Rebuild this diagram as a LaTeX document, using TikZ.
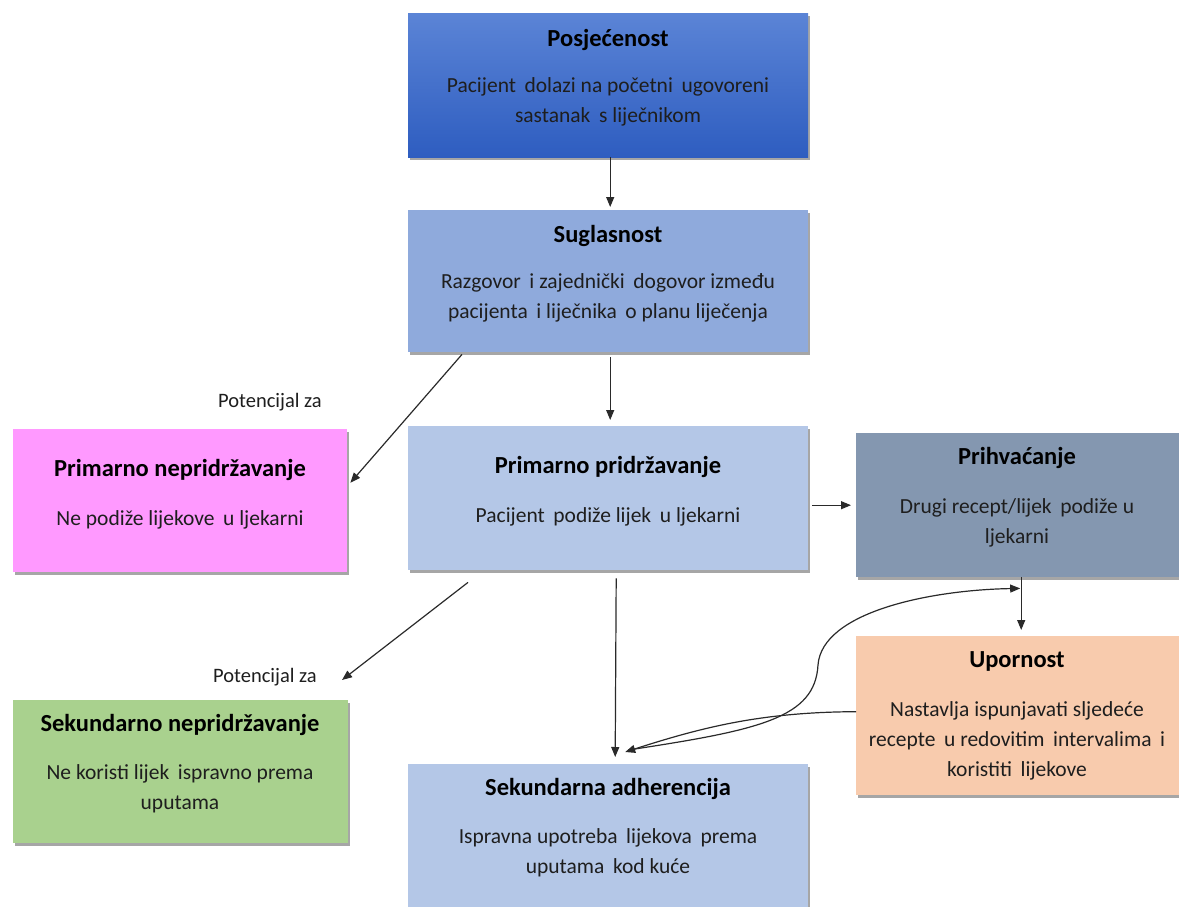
\documentclass[tikz,border=0pt]{standalone}
\usepackage{fontspec}
\setmainfont{Carlito}
\usetikzlibrary{shadows,arrows.meta,calc}
\definecolor{ptop}{HTML}{5B84D6}
\definecolor{pbot}{HTML}{2E5DC0}
\definecolor{csug}{HTML}{8FAADC}
\definecolor{cprim}{HTML}{B4C7E7}
\definecolor{cnepr}{HTML}{FF99FF}
\definecolor{cprih}{HTML}{8497B0}
\definecolor{cupor}{HTML}{F8CBAD}
\definecolor{csek}{HTML}{A9D18E}
\definecolor{ctxt}{HTML}{1E1E1E}
\definecolor{cline}{HTML}{2A2A2A}
\newcommand\xs{\hspace{0.4em}}
\begin{document}
\begin{tikzpicture}[x=1pt,y=-1pt,
  box/.style={draw=none, inner sep=0pt, anchor=north west,
    drop shadow={shadow xshift=2pt,shadow yshift=-3pt,opacity=0.35,fill=black}},
  ttl/.style={font=\fontsize{24.5}{28}\selectfont\bfseries, text=black, inner sep=0pt},
  body/.style={font=\fontsize{21.5}{30}\selectfont, text=ctxt, align=center, inner sep=0pt},
  lab/.style={font=\fontsize{20.5}{24}\selectfont, text=ctxt, inner sep=0pt},
  arr/.style={draw=cline, line width=1.2pt, -{Triangle[length=10pt,width=8pt]}}
]
\useasboundingbox (0,0) rectangle (1179,907);
% boxes
\node[box, top color=ptop, bottom color=pbot, minimum width=400pt, minimum height=144pt] (posj) at (408,13) {};
\node[box, fill=csug, minimum width=400pt, minimum height=142pt] (sugl) at (408,210) {};
\node[box, fill=cprim, minimum width=400pt, minimum height=144pt] (prim) at (408,426) {};
\node[box, fill=cnepr, minimum width=334pt, minimum height=143pt] (nepr) at (13,429) {};
\node[box, fill=cprih, minimum width=330pt, minimum height=144pt] (prih) at (856,433) {};
\node[box, fill=cupor, minimum width=330pt, minimum height=159pt] (upor) at (856,636) {};
\node[box, fill=csek, minimum width=335pt, minimum height=143pt] (sekn) at (13,700) {};
\node[box, fill=cprim, minimum width=400pt, minimum height=160pt] (seka) at (408,764) {};
% texts
\node[ttl] (t1) at (608,40) {Posjećenost};
\node[body] (b1) at (608,102) {Pacijent\xs dolazi na početni\xs ugovoreni\\sastanak\xs s liječnikom};
\node[ttl] (t2) at (608,236) {Suglasnost};
\node[body] (b2) at (608,298) {Razgovor\xs i zajednički\xs dogovor između\\pacijenta\xs i liječnika\xs o planu liječenja};
\node[ttl] (t3) at (608,467) {Primarno pridržavanje};
\node[body] (b3) at (608,517) {Pacijent\xs podiže lijek\xs u ljekarni};
\node[ttl] (t4) at (180,470) {Primarno nepridržavanje};
\node[body] (b4) at (180,520) {Ne podiže lijekove\xs u ljekarni};
\node[ttl] (t5) at (1017,458) {Prihvaćanje};
\node[body] (b5) at (1017,523) {Drugi recept/lijek\xs podiže u\\ljekarni};
\node[ttl] (t6) at (1017,661) {Upornost};
\node[body] (b6) at (1017,741) {Nastavlja ispunjavati sljedeće\\recepte\xs u redovitim\xs intervalima\xs i\\koristiti\xs lijekove};
\node[ttl] (t7) at (180,725) {Sekundarno nepridržavanje};
\node[body] (b7) at (180,789) {Ne koristi lijek\xs ispravno prema\\uputama};
\node[ttl] (t8) at (608,789) {Sekundarna adherencija};
\node[body] (b8) at (608,853) {Ispravna upotreba\xs lijekova\xs prema\\uputama\xs kod kuće};
% labels
\node[lab] (pot1) at (270,402) {Potencijal za};
\node[lab] (pot2) at (265,677) {Potencijal za};
% connectors
\draw[arr] ($(posj.south)+(2,0)$) -- ($(sugl.north)+(2,-3)$);
\draw[arr] ($(sugl.south)+(2,5)$) -- ($(prim.north)+(2,-6)$);
\draw[arr] ($(sugl.south west)+(54,2)$) -- ($(nepr.east)+(3,-18)$);
\draw[arr] ($(prim.south west)+(60,12)$) -- ($(pot2.east)+(25,3)$);
\draw[arr] ($(prim.south)+(8,8)$) -- ($(seka.north)+(7,-7)$);
\draw[arr] ($(prim.east)+(4,7)$) -- ($(prih.west)+(-5,-0)$);
\draw[arr] ($(prih.south)+(0,0)$) -- ($(upor.north)+(0,-6)$);
\coordinate (cs) at ($(seka.north)+(20,-14)$);
\coordinate (ce) at ($(prih.south)+(-1,11)$);
\coordinate (cm) at (818,665);
\draw[arr] (cs) .. controls (760,730) and (815,718) .. (cm) .. controls (822,612) and (930,590) .. (ce);
\draw[arr] ($(upor.west)+(0,-4)$) .. controls (760,712) and (700,728) .. ($(seka.north)+(17,-12)$);
\end{tikzpicture}
\end{document}
